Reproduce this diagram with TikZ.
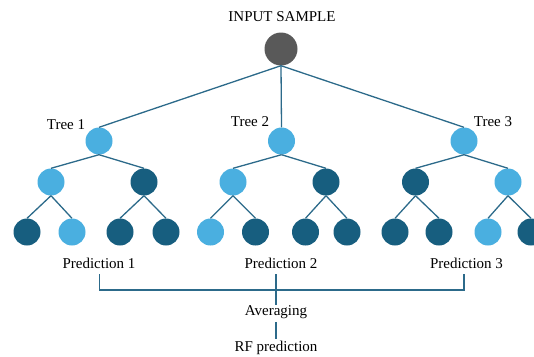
\documentclass[tikz,border=0pt]{standalone}
\usepackage{fontspec}
\setmainfont{Liberation Serif}
\definecolor{lightn}{HTML}{4AAFE0}
\definecolor{darkn}{HTML}{175E7F}
\definecolor{rootn}{HTML}{595959}
\definecolor{edgec}{HTML}{2C6A8A}
\begin{document}
\begin{tikzpicture}[x=1pt,y=-1pt,
  lt/.style={circle,fill=lightn,minimum size=27pt,inner sep=0pt},
  dk/.style={circle,fill=darkn,minimum size=27pt,inner sep=0pt},
  rt/.style={circle,fill=rootn,minimum size=33pt,inner sep=0pt},
  lbl/.style={inner sep=0pt,font=\fontsize{15}{18}\selectfont},
  ed/.style={draw=edgec,line width=1.3pt}]
\useasboundingbox (0,0) rectangle (534,356);
\node[lbl] (title) at (282,17) {INPUT SAMPLE};
\node[rt] (r) at (281,49) {};
\node[lt] (t1) at (99,141) {};
\node[lt] (t2) at (281.5,141) {};
\node[lt] (t3) at (464,141) {};
\node[lbl] (l1) at (66,125) {Tree 1};
\node[lbl] (l2) at (250,122) {Tree 2};
\node[lbl] (l3) at (493,122) {Tree 3};
% level 2
\node[lt] (a1) at (51,182) {};
\node[dk] (a2) at (144,182) {};
\node[lt] (b1) at (233,182) {};
\node[dk] (b2) at (326,182) {};
\node[dk] (c1) at (415.5,182) {};
\node[lt] (c2) at (508,182) {};
% level 3
\node[dk] (a11) at (27,232) {};
\node[lt] (a12) at (72,232) {};
\node[dk] (a21) at (120,232) {};
\node[dk] (a22) at (166,232) {};
\node[lt] (b11) at (210.5,232) {};
\node[dk] (b12) at (255.5,232) {};
\node[dk] (b21) at (305.5,232) {};
\node[dk] (b22) at (347,232) {};
\node[dk] (c11) at (395,232) {};
\node[dk] (c12) at (439,232) {};
\node[lt] (c21) at (488,232) {};
\node[dk] (c22) at (531,232) {};
% edges
\foreach \p/\c in {r/t1,r/t2,r/t3,t1/a1,t1/a2,t2/b1,t2/b2,t3/c1,t3/c2,
  a1/a11,a1/a12,a2/a21,a2/a22,b1/b11,b1/b12,b2/b21,b2/b22,c1/c11,c1/c12,c2/c21,c2/c22}
  \draw[ed] (\p.south) -- (\c.north);
% predictions
\node[lbl] (p1) at (99,263) {Prediction 1};
\node[lbl] (p2) at (281,263) {Prediction 2};
\node[lbl] (p3) at (466.5,263) {Prediction 3};
\node[lbl] (avg) at (276,312) {Averaging};
\node[lbl] (rf) at (276,347.5) {RF prediction};
\coordinate (q1) at (99.5,274);
\coordinate (q2) at (276,274);
\coordinate (q3) at (464,274);
\coordinate (h1) at (99.5,290);
\coordinate (h3) at (464,290);
\draw[ed,line width=1.2pt] (q1) -- (h1) -- (h3) -- (q3);
\draw[ed,line width=1.2pt] (q2) -- (avg.north -| q2);
\draw[ed,line width=1.2pt] ([yshift=-3pt]avg.south) -- ([yshift=2pt]rf.north);
\end{tikzpicture}
\end{document}
